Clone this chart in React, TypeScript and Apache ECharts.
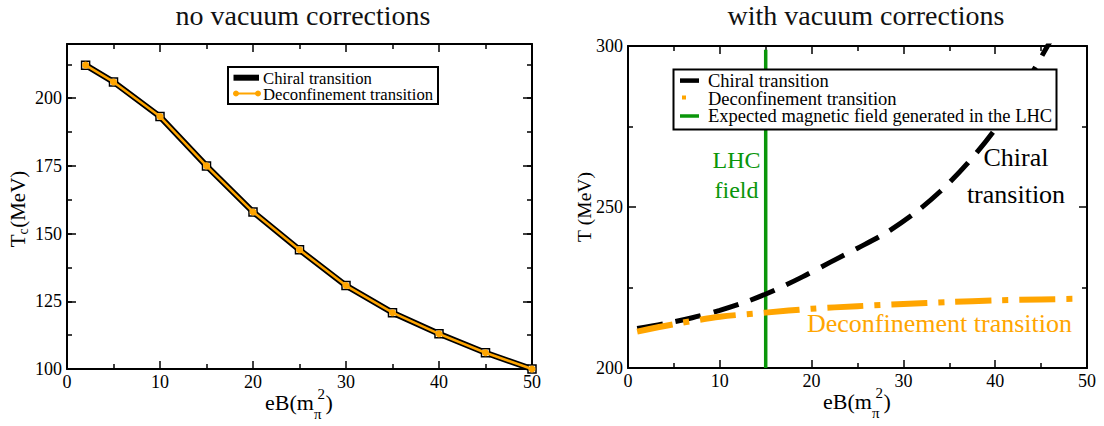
import React, { useEffect, useRef } from 'react';
import * as echarts from 'echarts';

const FONT = 'Liberation Serif';
const ORANGE = '#ffa500';
const GREEN = '#0a960a';

// ---- data: left panel (no vacuum corrections) ----
const leftEB = [2, 5, 10, 15, 20, 25, 30, 35, 40, 45, 50];
const leftChiral = [212.2, 206, 193.2, 175, 158, 144, 130.8, 120.8, 113, 106, 100];
const leftDeconf = [212.2, 206, 193.2, 175, 158, 144, 130.8, 120.8, 113, 106, 100];

// ---- data: right panel (with vacuum corrections) ----
const rightChiralEB = [1, 4, 7, 10, 13, 16, 19, 22, 25, 28, 31, 34, 37, 40, 43, 46];
const rightChiralT = [212.3, 213.8, 215.6, 217.9, 220.7, 224.2, 228.3, 232.8, 237.2, 241.8, 247.6, 254.8, 263.6, 274.2, 286.8, 301.5];
const rightDeconfEB = [1, 5, 10, 15, 20, 25, 30, 35, 40, 45, 49];
const rightDeconfT = [211.3, 213.6, 215.9, 217.2, 218.4, 219.2, 219.9, 220.5, 221, 221.3, 221.5];
const lhcField = 15;
const lhcRange = [200, 298.8];

// ---- tick labels ----
const xTickLabels = [0, 10, 20, 30, 40, 50];
const leftYTickLabels = [100, 125, 150, 175, 200];
const rightYTickLabels = [200, 250, 300];

const zip = (xs: number[], ys: number[]) => xs.map((x, i) => [x, ys[i]]);

function xAx(gridIndex: number, position: string, labels: boolean) {
  return {
    type: 'value', gridIndex, position, min: 0, max: 50, interval: 10,
    axisLine: { show: true, onZero: false, lineStyle: { color: '#000', width: 2 } },
    axisTick: { show: true, inside: true, length: 8, lineStyle: { color: '#000', width: 1.5 } },
    minorTick: { show: true, splitNumber: 2, length: 5, lineStyle: { color: '#000', width: 1.5 } },
    splitLine: { show: false }, minorSplitLine: { show: false },
    axisLabel: {
      show: labels, fontFamily: FONT, fontSize: 18, color: '#000', margin: 4,
      showMinLabel: true, showMaxLabel: true,
      formatter: (v: number) => (xTickLabels.includes(v) ? String(v) : ''),
    },
  };
}

function yAx(gridIndex: number, position: string, min: number, max: number, interval: number,
  labels: number[] | null, tickLen: number, minor: boolean, line: boolean) {
  return {
    type: 'value', gridIndex, position, min, max, interval,
    axisLine: { show: line, onZero: false, lineStyle: { color: '#000', width: 2 } },
    axisTick: { show: true, inside: true, length: tickLen, lineStyle: { color: '#000', width: 1.5 } },
    minorTick: { show: minor, splitNumber: 2, length: 5, lineStyle: { color: '#000', width: 1.5 } },
    splitLine: { show: false }, minorSplitLine: { show: false },
    axisLabel: {
      show: !!labels, fontFamily: FONT, fontSize: 18, color: '#000', margin: 5,
      showMinLabel: true, showMaxLabel: true,
      formatter: (v: number) => (labels && labels.includes(v) ? String(v) : ''),
    },
  };
}

const txt = (x: number, y: number, text: string, fontSize: number, fill = '#000', align = 'left') => ({
  type: 'text', x, y, z: 100, silent: true,
  style: {
    text, fill, fontSize, fontFamily: FONT,
    textAlign: align, align, textVerticalAlign: 'middle', verticalAlign: 'middle',
  },
});

const line = (x1: number, y1: number, x2: number, y2: number, stroke: string, lineWidth: number) => ({
  type: 'line', z: 101, silent: true,
  shape: { x1, y1, x2, y2 }, style: { stroke, lineWidth },
});

const rect = (x: number, y: number, width: number, height: number, fill: string, stroke?: string, lineWidth = 0) => ({
  type: 'rect', z: 100, silent: true,
  shape: { x, y, width, height }, style: stroke ? { fill, stroke, lineWidth } : { fill },
});

// x-axis name: eB(m_pi^2)
function xName(cx: number, cy: number) {
  const fs = 22;
  const mainW = 2.222 * fs;
  const total = mainW + 19;
  const x0 = cx - total / 2;
  return [
    txt(x0, cy, 'eB(m', fs),
    txt(x0 + mainW, cy + 12, 'π', 15),
    txt(x0 + mainW + 3.5, cy - 8, '2', 15),
    txt(x0 + mainW + 11.5, cy, ')', fs),
  ];
}

function yName(cx: number, cy: number, sub: string | null, rest: string, fs: number) {
  const tW = 0.611 * fs;
  const subW = sub ? 0.444 * 14 + 0.5 : 0.25 * fs;
  const restW = 2.721 * fs;
  const total = tW + subW + restW;
  const x0 = -total / 2;
  const children: any[] = [txt(x0, 0, 'T', fs)];
  if (sub) children.push(txt(x0 + tW, 5, sub, 14));
  children.push(txt(x0 + tW + subW, 0, rest, fs));
  return { type: 'group', x: cx, y: cy, rotation: Math.PI / 2, z: 100, children };
}

const graphic: any[] = [
  txt(303, 15, 'no vacuum corrections', 28, '#111', 'center'),
  txt(866, 15, 'with vacuum corrections', 28, '#111', 'center'),
  ...xName(299, 402),
  ...xName(857, 401),
  yName(18, 209, 'c', '(MeV)', 21),
  yName(584, 207, null, '(MeV)', 19.5),
  // left legend
  rect(228, 67, 210, 37, '#fff', '#000', 2),
  line(233.5, 77.7, 259, 77.7, '#000', 6),
  rect(235, 76.2, 3, 3, '#fff'),
  rect(254.5, 76.2, 3, 3, '#fff'),
  line(235.5, 93.5, 258.5, 93.5, ORANGE, 2),
  { type: 'circle', z: 102, silent: true, shape: { cx: 236, cy: 93.5, r: 3 }, style: { fill: ORANGE } },
  { type: 'circle', z: 102, silent: true, shape: { cx: 258, cy: 93.5, r: 3 }, style: { fill: ORANGE } },
  txt(263, 78.3, 'Chiral transition', 16.7),
  txt(263, 94, 'Deconfinement transition', 16.7),
  // right legend
  rect(673.5, 69.5, 383, 60, '#fff', '#000', 2),
  line(680, 80.6, 699, 80.6, '#000', 4.5),
  rect(682, 95.5, 4, 4, ORANGE),
  line(680, 116, 699, 116, GREEN, 3.5),
  txt(708, 81, 'Chiral transition', 18.5),
  txt(708, 98.8, 'Deconfinement transition', 18.5),
  txt(708, 116, 'Expected magnetic field generated in the LHC', 18.5),
  // annotations
  txt(736.5, 159.5, 'LHC', 24, GREEN, 'center'),
  txt(736.5, 190, 'field', 24, GREEN, 'center'),
  txt(1016, 157, 'Chiral', 26, '#000', 'center'),
  txt(1016, 194, 'transition', 26, '#000', 'center'),
  txt(939.5, 323.5, 'Deconfinement transition', 26, ORANGE, 'center'),
];

const option: any = {
  animation: false,
  backgroundColor: '#fff',
  textStyle: { fontFamily: FONT },
  grid: [
    { left: 67, top: 44, width: 465, height: 325 },
    { left: 628, top: 46, width: 459, height: 322 },
  ],
  xAxis: [
    xAx(0, 'bottom', true),
    xAx(0, 'top', false),
    xAx(1, 'bottom', true),
    xAx(1, 'top', false),
  ],
  yAxis: [
    yAx(0, 'left', 100, 220, 25, leftYTickLabels, 9, false, true),
    yAx(0, 'left', 100, 220, 12.5, null, 5, false, false),
    yAx(0, 'right', 100, 220, 25, null, 9, false, true),
    yAx(0, 'right', 100, 220, 12.5, null, 5, false, false),
    yAx(1, 'left', 200, 300, 50, rightYTickLabels, 8, true, true),
    yAx(1, 'right', 200, 300, 50, null, 8, true, true),
  ],
  series: [
    {
      name: 'Chiral transition', type: 'line', xAxisIndex: 0, yAxisIndex: 0, silent: true,
      data: zip(leftEB, leftChiral), symbol: 'rect', symbolSize: 8, showAllSymbol: true,
      lineStyle: { color: '#000', width: 6 },
      itemStyle: { color: '#fff', borderColor: '#000', borderWidth: 1.5 }, z: 2,
    },
    {
      name: 'Deconfinement transition', type: 'line', xAxisIndex: 0, yAxisIndex: 0, silent: true,
      data: zip(leftEB, leftDeconf), symbol: 'circle', symbolSize: 7, showAllSymbol: true,
      lineStyle: { color: ORANGE, width: 2.5 }, itemStyle: { color: ORANGE }, z: 3,
    },
    {
      name: 'LHC', type: 'line', xAxisIndex: 2, yAxisIndex: 4, silent: true,
      data: lhcRange.map((t) => [lhcField, t]), symbol: 'none',
      lineStyle: { color: GREEN, width: 3.5 }, z: 2,
    },
    {
      name: 'Chiral transition (vac)', type: 'line', xAxisIndex: 2, yAxisIndex: 4, silent: true,
      data: zip(rightChiralEB, rightChiralT), symbol: 'none', smooth: 0.3, clip: true,
      lineStyle: { color: '#000', width: 5, type: [26, 13] }, z: 3,
    },
    {
      name: 'Deconfinement transition (vac)', type: 'line', xAxisIndex: 2, yAxisIndex: 4, silent: true,
      data: zip(rightDeconfEB, rightDeconfT), symbol: 'none', smooth: 0.3, clip: true,
      lineStyle: { color: ORANGE, width: 6, type: [36, 11, 6, 11] }, z: 4,
    },
  ],
  graphic,
};

export default function App() {
  const ref = useRef<HTMLDivElement>(null);
  useEffect(() => {
    const chart = echarts.init(ref.current as HTMLDivElement, null, { renderer: 'svg' });
    chart.setOption(option);
    return () => chart.dispose();
  }, []);
  return (
    <div
      ref={ref}
      style={{ position: 'fixed', left: 0, top: 0, width: 1104, height: 426, background: '#fff' }}
    />
  );
}
